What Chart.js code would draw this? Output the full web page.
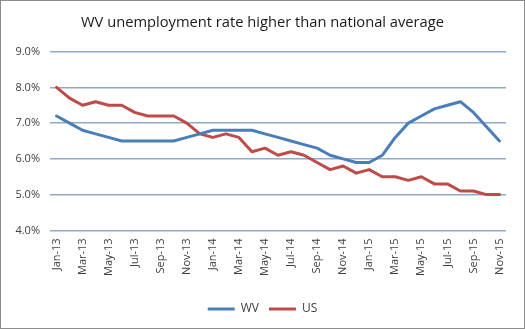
<!DOCTYPE html>
<html>
<head>
<meta charset="utf-8">
<script src="https://cdn.jsdelivr.net/npm/chart.js@4"></script>
<style>
  html, body { margin: 0; padding: 0; background: #fff; }
  #box { width: 525px; height: 329px; box-sizing: border-box; border: 1px solid #8c8c8c; background: #fff; }
  #c { display: block; }
</style>
</head>
<body>
<div id="box"><canvas id="c" width="523" height="327"></canvas></div>
<script>
// Monthly unemployment rate (%), Jan 2013 – Nov 2015
const months = [
  'Jan-13','Feb-13','Mar-13','Apr-13','May-13','Jun-13','Jul-13','Aug-13','Sep-13','Oct-13','Nov-13','Dec-13',
  'Jan-14','Feb-14','Mar-14','Apr-14','May-14','Jun-14','Jul-14','Aug-14','Sep-14','Oct-14','Nov-14','Dec-14',
  'Jan-15','Feb-15','Mar-15','Apr-15','May-15','Jun-15','Jul-15','Aug-15','Sep-15','Oct-15','Nov-15'
];
const wvRate = [
  7.2, 7.0, 6.8, 6.7, 6.6, 6.5, 6.5, 6.5, 6.5, 6.5, 6.6, 6.7,
  6.8, 6.8, 6.8, 6.8, 6.7, 6.6, 6.5, 6.4, 6.3, 6.1, 6.0, 5.9,
  5.9, 6.1, 6.6, 7.0, 7.2, 7.4, 7.5, 7.6, 7.3, 6.9, 6.5
];
const usRate = [
  8.0, 7.7, 7.5, 7.6, 7.5, 7.5, 7.3, 7.2, 7.2, 7.2, 7.0, 6.7,
  6.6, 6.7, 6.6, 6.2, 6.3, 6.1, 6.2, 6.1, 5.9, 5.7, 5.8, 5.6,
  5.7, 5.5, 5.5, 5.4, 5.5, 5.3, 5.3, 5.1, 5.1, 5.0, 5.0
];
const yTicks = [4.0, 5.0, 6.0, 7.0, 8.0, 9.0];

const FONT = "'Open Sans', 'Liberation Sans', sans-serif";
const TEXT = '#404040';
const GRID = '#8eaacb';

new Chart(document.getElementById('c'), {
  type: 'line',
  data: {
    labels: months,
    datasets: [
      { label: 'WV', data: wvRate, borderColor: '#4a7ebb', backgroundColor: '#4a7ebb',
        borderWidth: 3, pointRadius: 0, tension: 0, borderJoinStyle: 'round', borderCapStyle: 'round' },
      { label: 'US', data: usRate, borderColor: '#be4b48', backgroundColor: '#be4b48',
        borderWidth: 3, pointRadius: 0, tension: 0, borderJoinStyle: 'round', borderCapStyle: 'round' }
    ]
  },
  options: {
    responsive: false,
    animation: false,
    layout: { padding: { left: 0, right: 0, top: 0, bottom: 3 } },
    plugins: {
      title: {
        display: true,
        text: 'WV unemployment rate higher than national average',
        color: '#1a1a1a',
        font: { family: FONT, size: 14.7, weight: 'normal' },
        padding: { top: 13, bottom: 20 }
      },
      legend: {
        position: 'bottom',
        labels: {
          color: TEXT,
          font: { family: FONT, size: 12 },
          boxWidth: 27,
          boxHeight: 3,
          padding: 10,
          generateLabels(chart) {
            return chart.data.datasets.map((ds, i) => ({
              text: ds.label, fillStyle: ds.borderColor, strokeStyle: ds.borderColor,
              lineWidth: 0, fontColor: TEXT, datasetIndex: i, hidden: false
            }));
          }
        }
      },
      tooltip: { enabled: false }
    },
    scales: {
      x: {
        offset: true,
        grid: { display: false, drawTicks: false },
        border: { display: false },
        afterFit(scale) { scale.height += 9; },
        ticks: {
          autoSkip: false, maxRotation: 90, minRotation: 90, padding: 8,
          color: TEXT, font: { family: FONT, size: 11 },
          callback(v, i) { return i % 2 === 0 ? months[i] : ''; }
        }
      },
      y: {
        min: 4.0, max: 9.0,
        afterBuildTicks(scale) { scale.ticks = yTicks.map(v => ({ value: v })); },
        afterFit(scale) { scale.width = 49; },
        grid: { color: GRID, lineWidth: 1.5, drawTicks: false },
        border: { display: false },
        ticks: {
          padding: 10,
          color: TEXT, font: { family: FONT, size: 11 },
          callback(v) { return v.toFixed(1) + '%'; }
        }
      },
      // empty right-hand margin so the plot stops short of the frame
      yRight: {
        position: 'right',
        min: 4.0, max: 9.0,
        afterFit(scale) { scale.width = 18; },
        grid: { display: false, drawTicks: false },
        border: { display: false },
        ticks: { display: false }
      }
    }
  }
});
</script>
</body>
</html>
